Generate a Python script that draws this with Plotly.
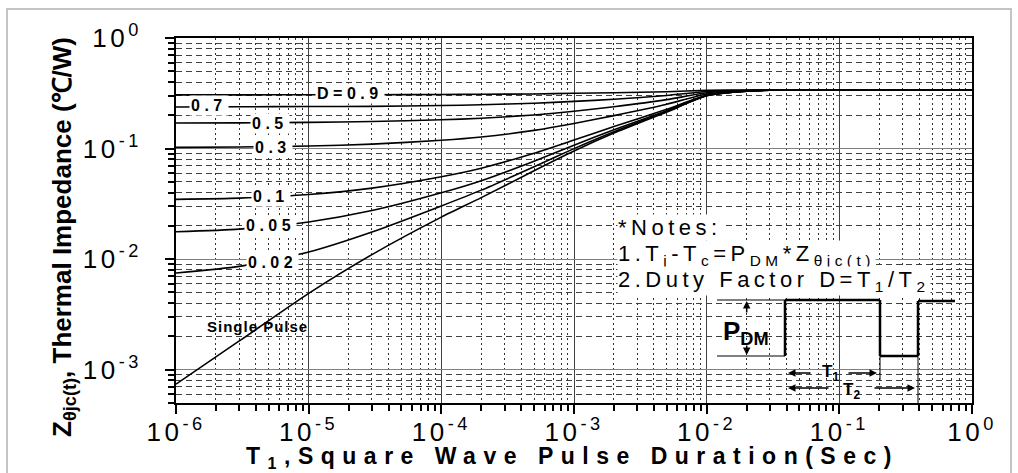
import plotly.graph_objects as go

# ---------------- data ----------------
T1 = [1e-6, 3e-6, 1e-5, 3e-5, 1e-4, 2e-4, 5e-4, 1e-3, 2e-3, 5e-3, 1e-2, 2e-2, 5e-2, 1e-1, 1.0]

Z_D09 = [0.306, 0.306, 0.307, 0.307, 0.308, 0.310, 0.312, 0.316, 0.320, 0.327, 0.336, 0.339, 0.340, 0.340, 0.340]
Z_D07 = [0.238, 0.239, 0.240, 0.241, 0.245, 0.249, 0.257, 0.267, 0.279, 0.302, 0.328, 0.337, 0.340, 0.340, 0.340]
Z_D05 = [0.1704, 0.1709, 0.1725, 0.1755, 0.182, 0.188, 0.2015, 0.2175, 0.239, 0.277, 0.320, 0.335, 0.340, 0.340, 0.340]
Z_D03 = [0.1025, 0.1033, 0.1054, 0.1097, 0.1188, 0.1272, 0.1461, 0.1685, 0.1986, 0.2518, 0.312, 0.333, 0.340, 0.340, 0.340]
Z_D01 = [0.0347, 0.0356, 0.0384, 0.0439, 0.0556, 0.0664, 0.0907, 0.1195, 0.1582, 0.2266, 0.304, 0.331, 0.340, 0.340, 0.340]
Z_D005 = [0.0177, 0.0187, 0.0217, 0.0275, 0.0398, 0.0512, 0.0769, 0.1073, 0.1481, 0.2203, 0.302, 0.3305, 0.340, 0.340, 0.340]
Z_D002 = [0.0075, 0.0086, 0.0116, 0.0176, 0.0303, 0.0421, 0.0685, 0.0999, 0.1420, 0.2165, 0.3008, 0.3302, 0.340, 0.340, 0.340]
Z_single = [0.00074, 0.00182, 0.0049, 0.011, 0.024, 0.036, 0.063, 0.095, 0.138, 0.214, 0.300, 0.330, 0.340, 0.340, 0.340]

series = [Z_D09, Z_D07, Z_D05, Z_D03, Z_D01, Z_D005, Z_D002, Z_single]
curve_labels = ["D=0.9", "0.7", "0.5", "0.3", "0.1", "0.05", "0.02", "Single Pulse"]

x_tickvals = [1e-6, 1e-5, 1e-4, 1e-3, 1e-2, 1e-1, 1]
x_ticktext = ["10<sup>-6</sup>", "10<sup>-5</sup>", "10<sup>-4</sup>", "10<sup>-3</sup>",
              "10<sup>-2</sup>", "10<sup>-1</sup>", "10<sup>0</sup>"]
y_tickvals = [1e-3, 1e-2, 1e-1, 1]
y_ticktext = ["10<sup>-3</sup>", "10<sup>-2</sup>", "10<sup>-1</sup>", "10<sup>0</sup>"]

# ---------------- layout geometry ----------------
W, H = 1018, 473
L, R, T, B = 176, 46, 38, 70
PW, PH = W - L - R, H - T - B


def px(x):
    return (x - L) / PW


def py(y):
    return (H - B - y) / PH


def ls(text, sp):
    return f'<span style="letter-spacing:{sp}px">{text}</span>'


FONT = "Liberation Sans, Arial, sans-serif"

fig = go.Figure()
for ys in series:
    fig.add_trace(go.Scatter(x=T1, y=ys, mode="lines",
                             line=dict(color="black", width=1.6, shape="spline", smoothing=0.6),
                             hoverinfo="skip", showlegend=False))

axis_common = dict(
    type="log", showline=True, linewidth=2, linecolor="black", mirror=True,
    ticks="outside", ticklen=9, tickwidth=2, tickcolor="black",
    showgrid=True, gridwidth=1, zeroline=False,
)

fig.update_xaxes(
    **axis_common, range=[-6, 0], tickmode="array", tickvals=x_tickvals,
    ticktext=[ls(t, 3.5) for t in x_ticktext],
    tickfont=dict(family=FONT, size=26, color="black"),
    ticklabelstandoff=-4, gridcolor="#404040",
    minor=dict(dtick="D1", ticks="outside", ticklen=6, tickwidth=1.5, tickcolor="black",
               showgrid=True, gridcolor="#303030", griddash="2px,3px", gridwidth=1),
)
fig.update_yaxes(
    **axis_common, range=[-3.301, 0], tickmode="array", tickvals=y_tickvals,
    ticktext=[ls(t, 3.5) for t in y_ticktext],
    tickfont=dict(family=FONT, size=26, color="black"),
    ticklabelstandoff=18, gridcolor="#808080",
    minor=dict(dtick="D1", ticks="outside", ticklen=6, tickwidth=1.5, tickcolor="black",
               showgrid=True, gridcolor="#404040", griddash="6px,4px", gridwidth=1),
)


def note(x, y, text, **kw):
    d = dict(x=px(x), y=py(y), xref="paper", yref="paper", showarrow=False,
             xanchor="center", yanchor="middle", text=text)
    d.update(kw)
    return d


ann = []
# axis titles
ann.append(note(572, 457, ls("<b>T<sub>1</sub>,Square Wave Pulse Duration(Sec)</b>", 7.5),
                font=dict(family=FONT, size=23, color="black")))
ann.append(note(63, 237, "<b>Z<sub>θjc(t)</sub>, Thermal Impedance (℃/W)</b>", textangle=-90,
                font=dict(family=FONT, size=26, color="black")))

# curve labels (pixel positions of label centers)
label_pos = [(350, 93), (209, 105), (270, 123), (273, 147), (271, 196), (270, 225), (272, 262), (257, 326)]
for lab, (lx, ly) in zip(curve_labels, label_pos):
    if lab == "Single Pulse":
        ann.append(note(lx, ly, ls(f"<b>{lab}</b>", 1), font=dict(family=FONT, size=15, color="black")))
    else:
        ann.append(note(lx, ly, ls(f"<b>{lab}</b>", 4.5), bgcolor="white", borderpad=1,
                        font=dict(family=FONT, size=16, color="black")))

# notes
notes = [
    ("*Notes:", 227),
    ("1.T<sub>j</sub>-T<sub>c</sub>=P<sub>DM</sub>*Z<sub>θjc(t)</sub>", 255),
    ("2.Duty Factor D=T<sub>1</sub>/T<sub>2</sub>", 281),
]
for txt, ny in notes:
    ann.append(note(617, ny, ls(txt, 4.5), xanchor="left", bgcolor="white", borderpad=0,
                    font=dict(family=FONT, size=22, color="black")))

# pulse diagram labels
ann.append(note(746, 332, "<b>P<sub>DM</sub></b>", font=dict(family=FONT, size=26, color="black")))
ann.append(note(830, 373, "<b>T<sub>1</sub></b>", font=dict(family=FONT, size=17, color="black")))
ann.append(note(851, 391, "<b>T<sub>2</sub></b>", font=dict(family=FONT, size=17, color="black")))

# arrows (head, tail) in pixels
arrows = [((746.7, 301), (746.7, 314)), ((746.7, 355), (746.7, 344)),
          ((788, 373), (812, 373)), ((877, 373), (847, 373)),
          ((788, 388), (830, 388)), ((915, 388), (873, 388))]
for (hx, hy), (tx, ty) in arrows:
    ann.append(dict(x=px(hx), y=py(hy), xref="paper", yref="paper", text="", showarrow=True,
                    ax=tx - hx, ay=ty - hy, arrowhead=2, arrowsize=1, arrowwidth=1.5,
                    arrowcolor="black", standoff=0, startstandoff=0))

shapes = []
# pulse train
thick = [((785, 356), (785, 300)), ((785, 300), (880, 300)), ((880, 300), (880, 356)),
         ((880, 356), (918, 356)), ((918, 356), (918, 301)), ((918, 301), (955, 301))]
thin = [((717, 300), (785, 300)), ((717, 356), (785, 356)),
        ((880, 356), (880, 380)), ((918, 356), (918, 403))]
for (x0, y0), (x1, y1) in thick:
    shapes.append(dict(type="line", xref="paper", yref="paper", x0=px(x0), y0=py(y0), x1=px(x1), y1=py(y1),
                       line=dict(color="black", width=2.5)))
for (x0, y0), (x1, y1) in thin:
    shapes.append(dict(type="line", xref="paper", yref="paper", x0=px(x0), y0=py(y0), x1=px(x1), y1=py(y1),
                       line=dict(color="black", width=1)))
# outer frame of the picture
shapes.append(dict(type="rect", xref="paper", yref="paper", x0=px(7), x1=px(1011), y0=py(490), y1=py(9),
                   line=dict(color="#c4c4c4", width=2), layer="below"))

fig.update_layout(
    width=W, height=H, margin=dict(l=L, r=R, t=T, b=B),
    paper_bgcolor="white", plot_bgcolor="white", showlegend=False,
    annotations=ann, shapes=shapes,
)

fig.write_html(
    "out.html",
    config={"displayModeBar": False},
    post_script="document.body.style.margin='0';document.body.style.padding='0';"
                "document.documentElement.style.overflow='hidden';",
)
